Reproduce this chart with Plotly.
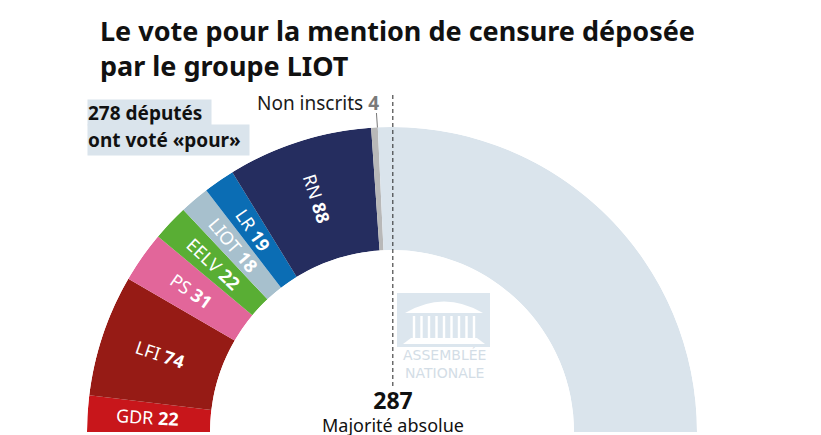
import math
import plotly.graph_objects as go

# ---------------- data ----------------
groups = ["GDR", "LFI", "PS", "EELV", "LIOT", "LR", "RN", "Non inscrits"]
votes_pour = [22, 74, 31, 22, 18, 19, 88, 4]
group_colors = ["#c8161b", "#961b15", "#e2669a", "#59ae34", "#a7c0cd", "#0b6db4", "#252d5f", "#b8b8b8"]
total_seats = 573
majority = 287
rest_label = "Autres"
rest_color = "#dae4ec"

# ---------------- geometry (layout only) ----------------
W, H = 821, 435
CX, CY = 392, 432          # centre of the hemicycle (px, y downwards)
R_OUT, R_IN = 305, 182     # outer / inner radius (px)

def px(x):
    return x / W

def py(y):
    return (H - y) / H

total_pour = sum(votes_pour)
values = votes_pour + [total_seats - total_pour]
colors = group_colors + [rest_color]
names = groups + [rest_label]

scale = 180.0 / total_seats
widths = [v * scale for v in values]
centers = []
cum = 0
for v in values:
    centers.append((cum + v / 2) * scale)
    cum += v

fig = go.Figure()
fig.add_trace(go.Barpolar(
    r=[1] * len(values),
    theta=centers,
    width=widths,
    marker=dict(color=colors, line=dict(width=0)),
    text=names,
    hoverinfo="text",
    showlegend=False,
))

def pos(angle_deg, rad):
    a = math.radians(angle_deg)
    return CX - rad * math.cos(a), CY - rad * math.sin(a)

annotations = []
shapes = []
FONT = "Noto Sans"

# labels inside segments
R_LAB = 245
for i, (g, v) in enumerate(zip(groups, votes_pour)):
    if g == "Non inscrits":
        continue
    x, y = pos(centers[i], R_LAB)
    annotations.append(dict(
        x=px(x), y=py(y), xref="paper", yref="paper",
        text=f"{g} <b>{v}</b>", showarrow=False,
        textangle=centers[i], xanchor="center", yanchor="middle",
        font=dict(family=FONT, size=18, color="white"),
    ))

# Non inscrits label with leader line
ni = groups.index("Non inscrits")
nx, ny = pos(centers[ni], R_OUT)
shapes.append(dict(type="line", xref="paper", yref="paper",
                   x0=px(nx + 2), y0=py(113), x1=px(nx + 3), y1=py(ny),
                   line=dict(color="#777777", width=1)))
annotations.append(dict(
    x=px(381), y=py(103), xref="paper", yref="paper",
    text=f"Non inscrits <span style='color:#7a7a7a'><b>{votes_pour[ni]}</b></span>",
    showarrow=False, xanchor="right", yanchor="middle",
    font=dict(family=FONT, size=19, color="#1a1a1a"),
))

# majority dashed line
ma = majority * scale
mx, _ = pos(ma, R_OUT)
shapes.append(dict(type="line", xref="paper", yref="paper",
                   x0=px(mx), x1=px(mx), y0=py(95), y1=py(386),
                   line=dict(color="#222222", width=1, dash="4px,3px")))
annotations.append(dict(
    x=px(mx), y=py(410), xref="paper", yref="paper",
    text=f"<span style='font-size:23px'><b>{majority}</b></span><br>Majorité absolue",
    showarrow=False, xanchor="center", yanchor="middle", align="center",
    font=dict(family=FONT, size=18, color="#111111"),
))

# "278 députés ont voté «pour»" boxes
annotations.append(dict(
    x=px(87), y=py(112.5), xref="paper", yref="paper",
    text=f"<b>{total_pour} députés</b>", showarrow=False,
    xanchor="left", yanchor="middle", align="left",
    width=123, height=25, bgcolor="#dae4ec", borderpad=0,
    font=dict(family=FONT, size=19, color="#111111"),
))
annotations.append(dict(
    x=px(87), y=py(140), xref="paper", yref="paper",
    text="<b>ont voté «pour»</b>", showarrow=False,
    xanchor="left", yanchor="middle", align="left",
    width=161, height=30, bgcolor="#dae4ec", borderpad=0,
    font=dict(family=FONT, size=19, color="#111111"),
))

# title
annotations.append(dict(
    x=px(98), y=py(48), xref="paper", yref="paper",
    text="<b>Le vote pour la mention de censure déposée<br>par le groupe LIOT</b>",
    showarrow=False, xanchor="left", yanchor="middle", align="left",
    font=dict(family=FONT, size=27, color="#111111"),
))

# Assemblée nationale watermark (decorative)
logo_c = "#dce6ee"
shapes.append(dict(type="rect", xref="paper", yref="paper",
                   x0=px(397), x1=px(490), y0=py(347), y1=py(293),
                   fillcolor=logo_c, line=dict(width=0), layer="above"))
shapes.append(dict(type="path", xref="paper", yref="paper",
                   path=f"M {px(405)},{py(313)} Q {px(444)},{py(290)} {px(483)},{py(313)} Z",
                   fillcolor="white", line=dict(width=0), layer="above"))
for k in range(9):
    cx = 414 + k * 7.5
    shapes.append(dict(type="rect", xref="paper", yref="paper",
                       x0=px(cx - 1.2), x1=px(cx + 1.2), y0=py(338), y1=py(316),
                       fillcolor="white", line=dict(width=0), layer="above"))
shapes.append(dict(type="path", xref="paper", yref="paper",
                   path=f"M {px(403)},{py(344)} L {px(411)},{py(338)} L {px(477)},{py(338)} L {px(485)},{py(344)} Z",
                   fillcolor="white", line=dict(width=0), layer="above"))
annotations.append(dict(
    x=px(444), y=py(364), xref="paper", yref="paper",
    text="ASSEMBLÉE<br>NATIONALE", showarrow=False, xanchor="center", yanchor="middle",
    font=dict(family="DejaVu Sans", size=14, color="#d3dde6"),
))

fig.update_layout(
    width=W, height=H,
    margin=dict(l=0, r=0, t=0, b=0),
    paper_bgcolor="white",
    plot_bgcolor="white",
    polar=dict(
        domain=dict(x=[px(CX - R_OUT), px(CX + R_OUT)], y=[py(CY), py(CY - R_OUT)]),
        sector=[0, 180],
        hole=R_IN / R_OUT,
        bgcolor="rgba(0,0,0,0)",
        radialaxis=dict(range=[0, 1], visible=False),
        angularaxis=dict(visible=False, direction="clockwise", rotation=180,
                         thetaunit="degrees"),
    ),
    annotations=annotations,
    shapes=shapes,
    showlegend=False,
)

fig.write_html("out.html", config={"displayModeBar": False},
               post_script="document.body.style.margin='0';")
